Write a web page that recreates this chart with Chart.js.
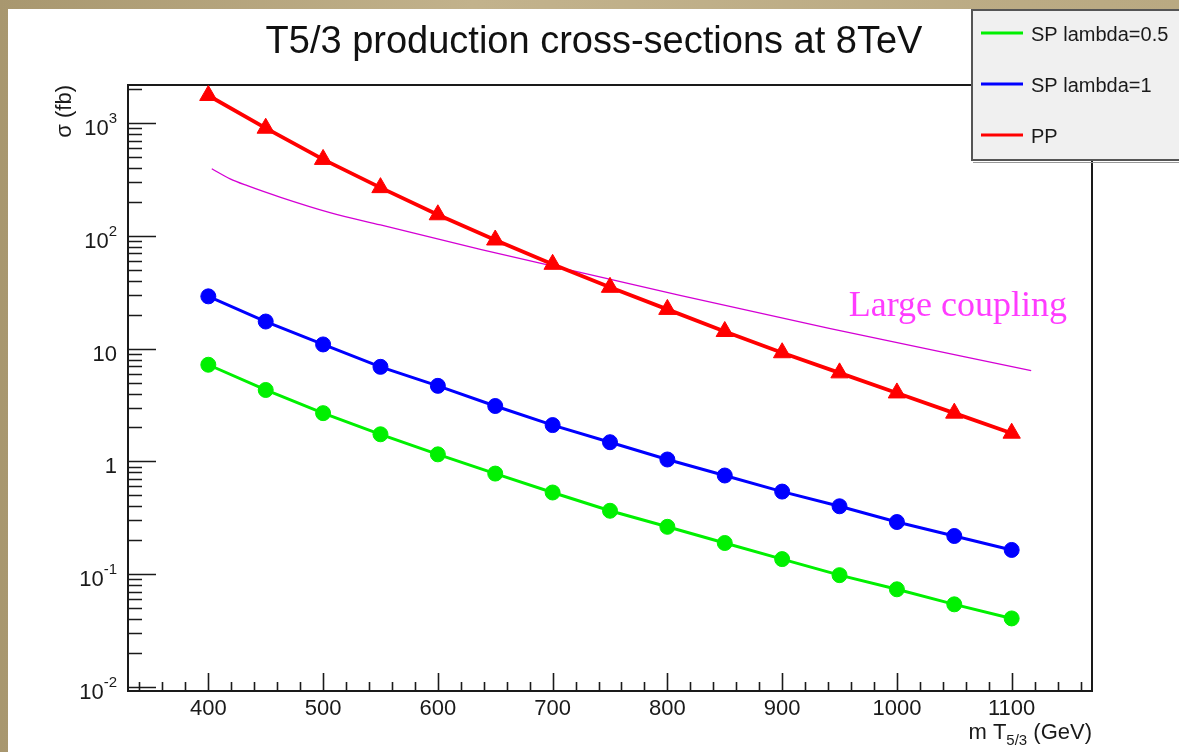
<!DOCTYPE html>
<html>
<head>
<meta charset="utf-8">
<title>T5/3 production cross-sections</title>
<script src="https://cdn.jsdelivr.net/npm/chart.js@4.4.0/dist/chart.umd.min.js"></script>
<style>
html, body { margin: 0; padding: 0; }
body { width: 1179px; height: 752px; overflow: hidden; position: relative;
	background: linear-gradient( 90deg, #a8976f, #c2b28c 40%, #b9a982 ); }
#page { position: absolute; left: 8px; top: 9px; right: 0; bottom: 0; background: #fff; }
#wrap { position: absolute; left: 0; top: 0; width: 1179px; height: 752px; }
</style>
</head>
<body>
<div id="page"></div>
<div id="wrap"><canvas id="xsec" width="1179" height="752"></canvas></div>
<script>

// masses in GeV, cross-sections in fb
const masses = [ 400, 450, 500, 550, 600, 650, 700, 750, 800, 850, 900, 950, 1000, 1050, 1100 ];
const sigmaSP05 = [ 7.2, 4.3, 2.68, 1.74, 1.155, 0.78, 0.53, 0.365, 0.263, 0.189, 0.136, 0.098, 0.0734, 0.054, 0.0405 ];
const sigmaSP1 = [ 29.1, 17.4, 10.9, 6.9, 4.68, 3.1, 2.1, 1.48, 1.04, 0.75, 0.54, 0.40, 0.29, 0.218, 0.164 ];
const sigmaPP = [ 1760, 902, 477, 268, 154, 92, 56, 35, 22.3, 14.2, 9.2, 6.1, 4.05, 2.68, 1.78 ];

// hand drawn "large coupling" curve
const couplingMass = [ 403, 419, 434, 463, 506, 550, 637, 811, 941, 1117 ];
const couplingSigma = [ 394, 321, 279, 220, 161, 125, 76, 29.7, 15.1, 6.4 ];

const seriesLabels = [ 'SP lambda=0.5', 'SP lambda=1', 'PP' ];
const xTickLabels = [ '400', '500', '600', '700', '800', '900', '1000', '1100' ];
const yTickExponents = [ -2, -1, 0, 1, 2, 3 ];

const pts = ( xs, ys ) => xs.map( ( x, i ) => ( { x: x, y: ys[ i ] } ) );

const FONT = '"Liberation Sans", Arial, Helvetica, sans-serif';

const rootStyle = {
	id: 'rootStyle',

	beforeDatasetsDraw( chart ) {
		const { ctx, chartArea: a, scales: { x, y } } = chart;
		ctx.save();
		ctx.strokeStyle = '#1a1a1a';
		ctx.lineWidth = 2;
		ctx.strokeRect( a.left, a.top, a.right - a.left, a.bottom - a.top );

		// inward ticks, root style
		ctx.lineWidth = 1.6;
		ctx.beginPath();
		for ( let v = 340; v <= 1160; v += 20 ) {
			const px = Math.round( x.getPixelForValue( v ) ) + 0.5;
			const len = v % 100 === 0 ? 18 : 9;
			ctx.moveTo( px, a.bottom );
			ctx.lineTo( px, a.bottom - len );
		}
		yTickExponents.forEach( d => {
			for ( let k = 1; k < 10; k++ ) {
				const v = k * Math.pow( 10, d );
				if ( v < y.min || v > y.max ) continue;
				const py = Math.round( y.getPixelForValue( v ) ) + 0.5;
				ctx.moveTo( a.left, py );
				ctx.lineTo( a.left + ( k === 1 ? 28 : 14 ), py );
			}
		} );
		ctx.stroke();

		// tick labels
		ctx.fillStyle = '#1a1a1a';
		ctx.font = `22px ${ FONT }`;
		ctx.textAlign = 'center';
		ctx.textBaseline = 'alphabetic';
		xTickLabels.forEach( t => {
			ctx.fillText( t, x.getPixelForValue( +t ), a.bottom + 24 );
		} );

		ctx.textAlign = 'right';
		yTickExponents.forEach( d => {
			const py = y.getPixelForValue( Math.pow( 10, d ) );
			const right = 117;
			if ( d === 0 || d === 1 ) {
				ctx.font = `22px ${ FONT }`;
				ctx.fillText( d === 0 ? '1' : '10', right, py + 12 );
				return;
			}
			const ex = String( d );
			ctx.font = `15px ${ FONT }`;
			const w = ctx.measureText( ex ).width;
			ctx.fillText( ex, right, py );
			ctx.font = `22px ${ FONT }`;
			ctx.fillText( '10', right - w, py + 12 );
		} );

		// axis titles
		ctx.save();
		ctx.translate( 71, a.top );
		ctx.rotate( -Math.PI / 2 );
		ctx.textAlign = 'right';
		ctx.font = `22px ${ FONT }`;
		ctx.fillText( 'σ (fb)', 0, 0 );
		ctx.restore();

		ctx.textAlign = 'left';
		const parts = [ [ 'm T', 22, 0 ], [ '5/3', 15, 6 ], [ ' (GeV)', 22, 0 ] ];
		let tw = 0;
		parts.forEach( p => { ctx.font = `${ p[1] }px ${ FONT }`; tw += ctx.measureText( p[0] ).width; } );
		let cx = a.right - tw;
		parts.forEach( p => {
			ctx.font = `${ p[1] }px ${ FONT }`;
			ctx.fillText( p[0], cx, 739 + p[2] );
			cx += ctx.measureText( p[0] ).width;
		} );
		ctx.restore();
	},

	afterDraw( chart ) {
		const { ctx, scales: { x, y } } = chart;
		ctx.save();

		// title
		ctx.fillStyle = '#111';
		ctx.font = `38px ${ FONT }`;
		ctx.textAlign = 'center';
		ctx.fillText( 'T5/3 production cross-sections at 8TeV', 594, 53 );

		// annotation
		ctx.fillStyle = '#ff3cff';
		ctx.font = '36px "Liberation Serif", "Times New Roman", serif';
		ctx.textAlign = 'left';
		ctx.fillText( 'Large coupling', x.getPixelForValue( 958 ), y.getPixelForValue( 19.3 ) );

		// legend box
		ctx.fillStyle = '#f0f0f0';
		ctx.fillRect( 972, 10, 220, 150 );
		ctx.strokeStyle = '#555';
		ctx.lineWidth = 2;
		ctx.strokeRect( 972, 10, 220, 150 );
		ctx.strokeStyle = '#999';
		ctx.lineWidth = 1;
		ctx.beginPath();
		ctx.moveTo( 973, 162.5 );
		ctx.lineTo( 1179, 162.5 );
		ctx.stroke();

		ctx.font = `20px ${ FONT }`;
		ctx.textBaseline = 'middle';
		seriesLabels.forEach( ( lab, i ) => {
			const ds = chart.data.datasets[ i ];
			const ly = 33 + i * 51;
			ctx.strokeStyle = ds.borderColor;
			ctx.lineWidth = 3;
			ctx.beginPath();
			ctx.moveTo( 981, ly );
			ctx.lineTo( 1023, ly );
			ctx.stroke();
			ctx.fillStyle = '#1a1a1a';
			ctx.fillText( lab, 1031, ly + 2 );
		} );
		ctx.restore();
	}
};

new Chart( 'xsec', {
	type: 'line',
	data: {
		datasets: [ {
			label: seriesLabels[0],
			data: pts( masses, sigmaSP05 ),
			borderColor: '#00f000',
			backgroundColor: '#00f000',
			borderWidth: 3,
			pointRadius: 7.5,
			pointBorderWidth: 1,
			pointStyle: 'circle'
		}, {
			label: seriesLabels[1],
			data: pts( masses, sigmaSP1 ),
			borderColor: '#0000ff',
			backgroundColor: '#0000ff',
			borderWidth: 3,
			pointRadius: 7.5,
			pointBorderWidth: 1,
			pointStyle: 'circle'
		}, {
			label: seriesLabels[2],
			data: pts( masses, sigmaPP ),
			borderColor: '#ff0000',
			backgroundColor: '#ff0000',
			borderWidth: 3.8,
			pointRadius: 10,
			pointBorderWidth: 1,
			pointStyle: 'triangle'
		}, {
			label: 'Large coupling',
			data: pts( couplingMass, couplingSigma ),
			borderColor: '#d400d4',
			borderWidth: 1.3,
			pointRadius: 0,
			cubicInterpolationMode: 'monotone'
		} ]
	},
	options: {
		responsive: false,
		animation: false,
		layout: {
			padding: { left: 128, top: 85, right: 87, bottom: 61 }
		},
		plugins: {
			legend: { display: false },
			title: { display: false },
			tooltip: { enabled: false }
		},
		scales: {
			x: { type: 'linear', min: 330, max: 1170, display: false },
			y: { type: 'logarithmic', min: 0.0092, max: 2180, display: false }
		}
	},
	plugins: [ rootStyle ]
} );
</script>
</body>
</html>
